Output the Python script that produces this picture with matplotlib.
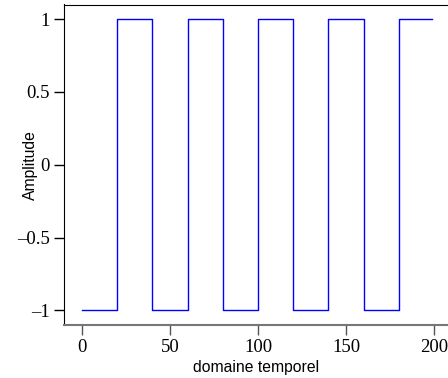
import matplotlib
matplotlib.use("Agg")
import matplotlib.pyplot as plt
import numpy as np

# Square wave: levels between transition times
edges = [0, 20, 40, 60, 80, 100, 120, 140, 160, 180, 199]
levels = [-1, 1, -1, 1, -1, 1, -1, 1, -1, 1]

xticks = [0, 50, 100, 150, 200]
yticks = [-1, -0.5, 0, 0.5, 1]
ytick_labels = ["\u20131", "\u20130.5", "0", "0.5", "1"]

xs, ys = [], []
for i, lv in enumerate(levels):
    xs += [edges[i], edges[i + 1]]
    ys += [lv, lv]

fig = plt.figure(figsize=(4.48, 3.78), dpi=100)
# axes extends past the right edge of the figure (cropped like the reference)
ax = fig.add_axes([64 / 448, 53 / 378, 387.6 / 448, 320.5 / 378])
ax.plot(xs, ys, color="#0000ff", lw=1.0)
ax.set_xlim(-10.2, 210)
ax.set_ylim(-1.1, 1.1)

ax.set_xticks(xticks)
ax.set_xticklabels([str(t) for t in xticks], family="Liberation Serif", fontsize=13.5)
ax.set_yticks(yticks)
ax.set_yticklabels(ytick_labels, family="Liberation Serif", fontsize=13.5)
ax.tick_params(direction="out", length=7, width=1, colors="black")
ax.tick_params(axis="x", pad=3, color="#555555")
ax.tick_params(axis="y", pad=3)

ax.spines["right"].set_visible(False)
ax.spines["top"].set_color("black")
ax.spines["left"].set_color("black")
ax.spines["bottom"].set_color("#777777")
ax.spines["bottom"].set_linewidth(1.5)

ax.set_xlabel("domaine temporel", family="Liberation Sans", fontsize=11.3)
ax.set_ylabel("Amplitude", family="Liberation Sans", fontsize=11.3)
ax.xaxis.set_label_coords(0.5 - 2 / 387.6, -0.11)
ax.yaxis.set_label_coords(-0.068, 0.5)

fig.savefig("out.png", dpi=100)
